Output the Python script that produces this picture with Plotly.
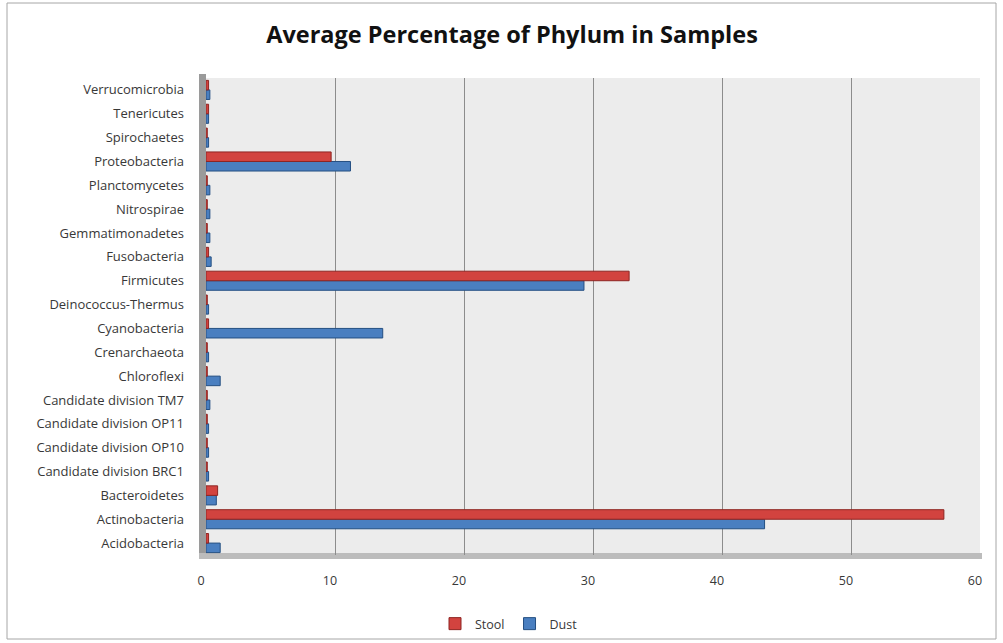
import plotly.graph_objects as go

# Phyla, listed bottom to top as they appear on the category axis
phyla = [
    "Acidobacteria", "Actinobacteria", "Bacteroidetes",
    "Candidate division BRC1", "Candidate division OP10",
    "Candidate division OP11", "Candidate division TM7", "Chloroflexi",
    "Crenarchaeota", "Cyanobacteria", "Deinococcus-Thermus", "Firmicutes",
    "Fusobacteria", "Gemmatimonadetes", "Nitrospirae", "Planctomycetes",
    "Proteobacteria", "Spirochaetes", "Tenericutes", "Verrucomicrobia",
]

# Average percentage of each phylum
stool = [0.2, 57.2, 0.9, 0.1, 0.1, 0.1, 0.1, 0.1, 0.1, 0.2, 0.1, 32.8,
         0.2, 0.1, 0.1, 0.1, 9.7, 0.1, 0.2, 0.2]
dust = [1.1, 43.3, 0.8, 0.2, 0.2, 0.2, 0.3, 1.1, 0.2, 13.7, 0.2, 29.3,
        0.4, 0.3, 0.3, 0.3, 11.2, 0.2, 0.2, 0.3]

x_ticks = [0, 10, 20, 30, 40, 50, 60]

RED = "#d2433f"
RED_EDGE = "#8e2522"
BLUE = "#4a7fc0"
BLUE_EDGE = "#244f82"

FONT = "Open Sans"

fig = go.Figure()
fig.add_trace(go.Bar(
    y=phyla, x=dust, orientation="h", name="Dust",
    marker=dict(color=BLUE, line=dict(color=BLUE_EDGE, width=1)),
))
fig.add_trace(go.Bar(
    y=phyla, x=stool, orientation="h", name="Stool",
    marker=dict(color=RED, line=dict(color=RED_EDGE, width=1)),
))

# plot area geometry (pixels)
L, R, T, B = 206, 23, 78, 88
W, H = 1003 - L - R, 643 - T - B


def px(xp):
    return (xp - L) / W


def py(yp):
    return (643 - B - yp) / H


shapes = [
    # left wall
    dict(type="rect", xref="paper", yref="paper",
         x0=px(199), x1=px(206), y0=py(556), y1=py(74),
         fillcolor="#9a9a9a", line=dict(width=0), layer="below"),
    # floor
    dict(type="rect", xref="paper", yref="paper",
         x0=px(199), x1=px(982), y0=py(559), y1=py(553),
         fillcolor="#bcbcbc", line=dict(width=0), layer="below"),
    # chart border
    dict(type="rect", xref="paper", yref="paper",
         x0=px(7), x1=px(996), y0=py(639), y1=py(3),
         fillcolor="rgba(0,0,0,0)", line=dict(color="#a6a6a6", width=1)),
]

fig.update_layout(
    width=1003, height=643,
    margin=dict(l=L, r=R, t=T, b=B, autoexpand=False),
    paper_bgcolor="white",
    plot_bgcolor="#ececec",
    barmode="group",
    bargap=0.2,
    bargroupgap=0.0,
    title=dict(
        text="<b>Average Percentage of Phylum in Samples</b>",
        x=512 / 1003, xref="container", xanchor="center",
        y=1 - 35 / 643, yref="container", yanchor="middle",
        font=dict(family=FONT, size=23.5, color="#111111"),
    ),
    xaxis=dict(
        range=[0, 60], tickvals=x_ticks, ticktext=[str(v) for v in x_ticks],
        showgrid=True, gridcolor="#8c8c8c", gridwidth=1,
        zeroline=False, showline=False, ticks="",
        ticklabelstandoff=16, ticklabelshift=-5, automargin=False,
        tickfont=dict(family=FONT, size=12.5, color="#383838"),
        fixedrange=True,
    ),
    yaxis=dict(
        categoryorder="array", categoryarray=phyla,
        showgrid=False, zeroline=False, showline=False, ticks="",
        ticklabelstandoff=21, automargin=False,
        tickfont=dict(family=FONT, size=13, color="#383838"),
        fixedrange=True,
    ),
    legend=dict(
        orientation="h", traceorder="reversed",
        x=px(509), xanchor="center", y=py(624), yanchor="middle",
        font=dict(family=FONT, size=12.5, color="#383838"),
        itemwidth=30, bgcolor="rgba(0,0,0,0)",
    ),
    shapes=shapes,
)

fig.write_html("out.html")
